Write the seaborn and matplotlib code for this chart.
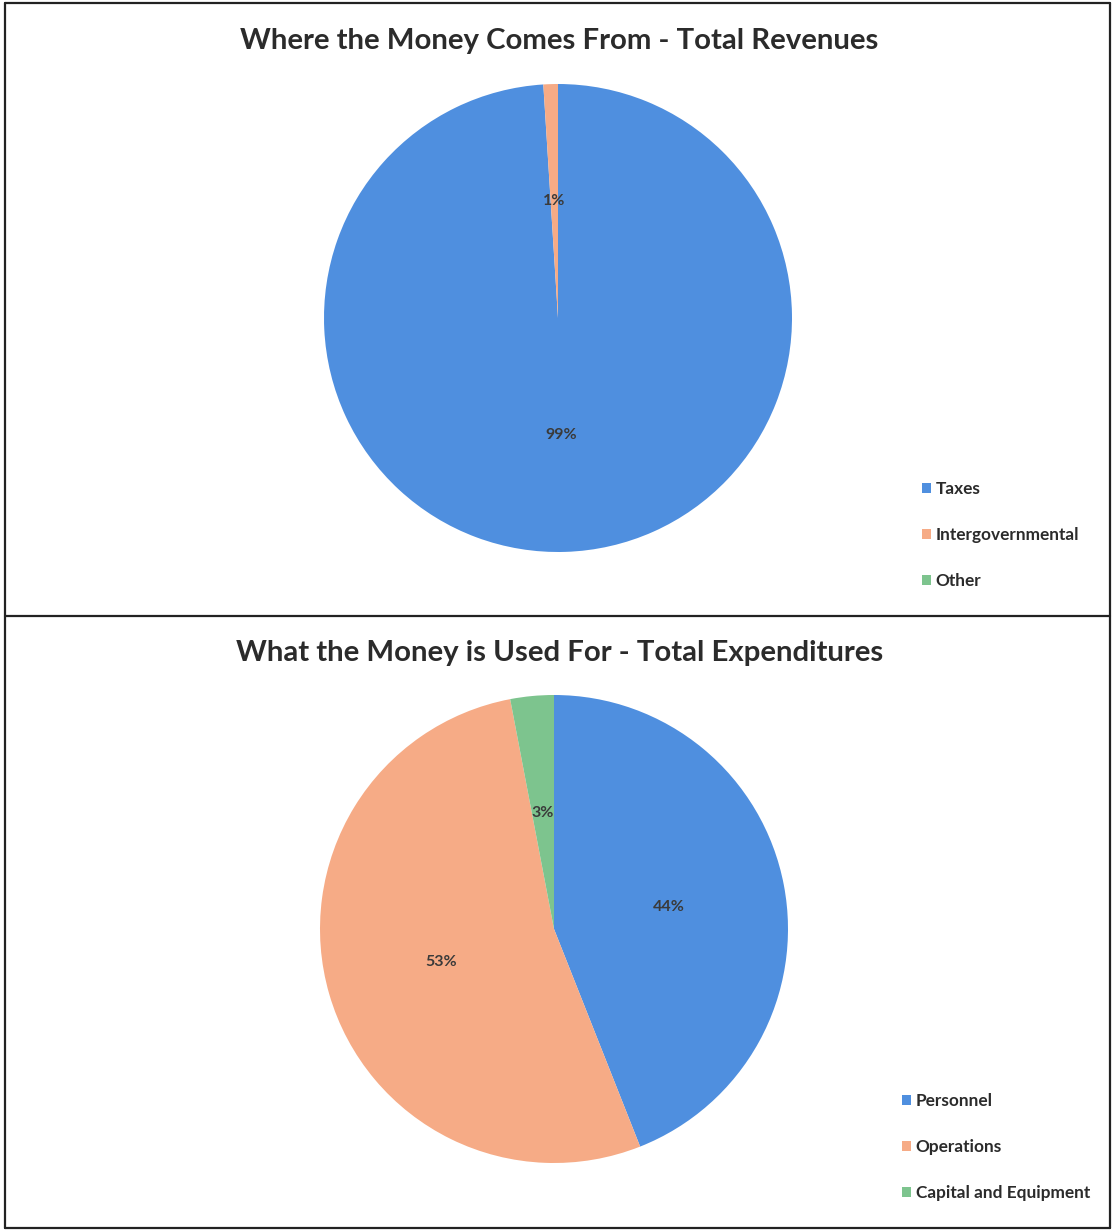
import matplotlib
matplotlib.use("Agg")
import matplotlib.pyplot as plt
from matplotlib.patches import Patch
from matplotlib.lines import Line2D
import seaborn as sns

# Revenue and expenditure shares (percent)
revenue_labels = ["Taxes", "Intergovernmental", "Other"]
revenue_values = [99, 1, 0]
expense_labels = ["Personnel", "Operations", "Capital and Equipment"]
expense_values = [44, 53, 3]

titles = ["Where the Money Comes From - Total Revenues",
          "What the Money is Used For - Total Expenditures"]

sns.set_theme(style="white")
plt.rcParams["font.family"] = ["Lato", "DejaVu Sans"]

colors = ["#4F8FDF", "#F6AB86", "#7DC48E"]
text_dark = "#2b2b2b"

W, H = 1112, 1230
fig = plt.figure(figsize=(W / 100, H / 100), dpi=100)
fig.patch.set_facecolor("white")


def px_axes(cx, cy, r):
    """Axes box (figure fraction) for a pie of radius r centred at pixel (cx, cy)."""
    return [(cx - r) / W, (H - (cy + r)) / H, 2 * r / W, 2 * r / H]


def pct_fmt(p):
    return f"{p:.0f}%" if p >= 0.5 else ""


panels = [
    dict(labels=revenue_labels, values=revenue_values, title=titles[0],
         centre=(558, 318), r=234, title_y=41, leg_x=922, leg_y=481),
    dict(labels=expense_labels, values=expense_values, title=titles[1],
         centre=(554, 929), r=234, title_y=653, leg_x=902, leg_y=1093),
]

for p in panels:
    ax = fig.add_axes(px_axes(*p["centre"], p["r"]))
    wedges, texts, autotexts = ax.pie(
        p["values"], colors=colors, startangle=90, counterclock=False,
        autopct=pct_fmt, pctdistance=0.5,
        wedgeprops=dict(linewidth=0, edgecolor="none"),
        textprops=dict(color="#3a3a3a", fontsize=11.5, fontweight="bold"))
    ax.set_xlim(-1, 1)
    ax.set_ylim(-1, 1)
    ax.set_aspect("equal")
    ax.axis("off")

    fig.text(0.5 * (5 + 1110) / W + 2 / W, 1 - p["title_y"] / H, p["title"],
             ha="center", va="center", fontsize=21.2, fontweight="bold",
             color=text_dark)

    handles = [Patch(facecolor=c, edgecolor="none") for c in colors]
    fig.legend(handles, p["labels"], loc="upper left",
               bbox_to_anchor=(p["leg_x"] / W, 1 - p["leg_y"] / H),
               bbox_transform=fig.transFigure, frameon=False,
               handlelength=0.5, handleheight=0.5, handletextpad=0.3,
               labelspacing=1.74, borderaxespad=0, borderpad=0,
               prop=dict(size=12.4, weight="bold"), labelcolor=text_dark)

# Panel frames
frame_kw = dict(color="#222222", linewidth=1.6, transform=fig.transFigure)
xl, xr = 5 / W, 1110 / W
yt, ym, yb = 1 - 3 / H, 1 - 616 / H, 1 - 1228 / H
for xs, ys in [((xl, xr), (yt, yt)), ((xl, xr), (ym, ym)), ((xl, xr), (yb, yb)),
               ((xl, xl), (yb, yt)), ((xr, xr), (yb, yt))]:
    fig.add_artist(Line2D(xs, ys, **frame_kw))

fig.savefig("out.png", dpi=100, facecolor="white")
